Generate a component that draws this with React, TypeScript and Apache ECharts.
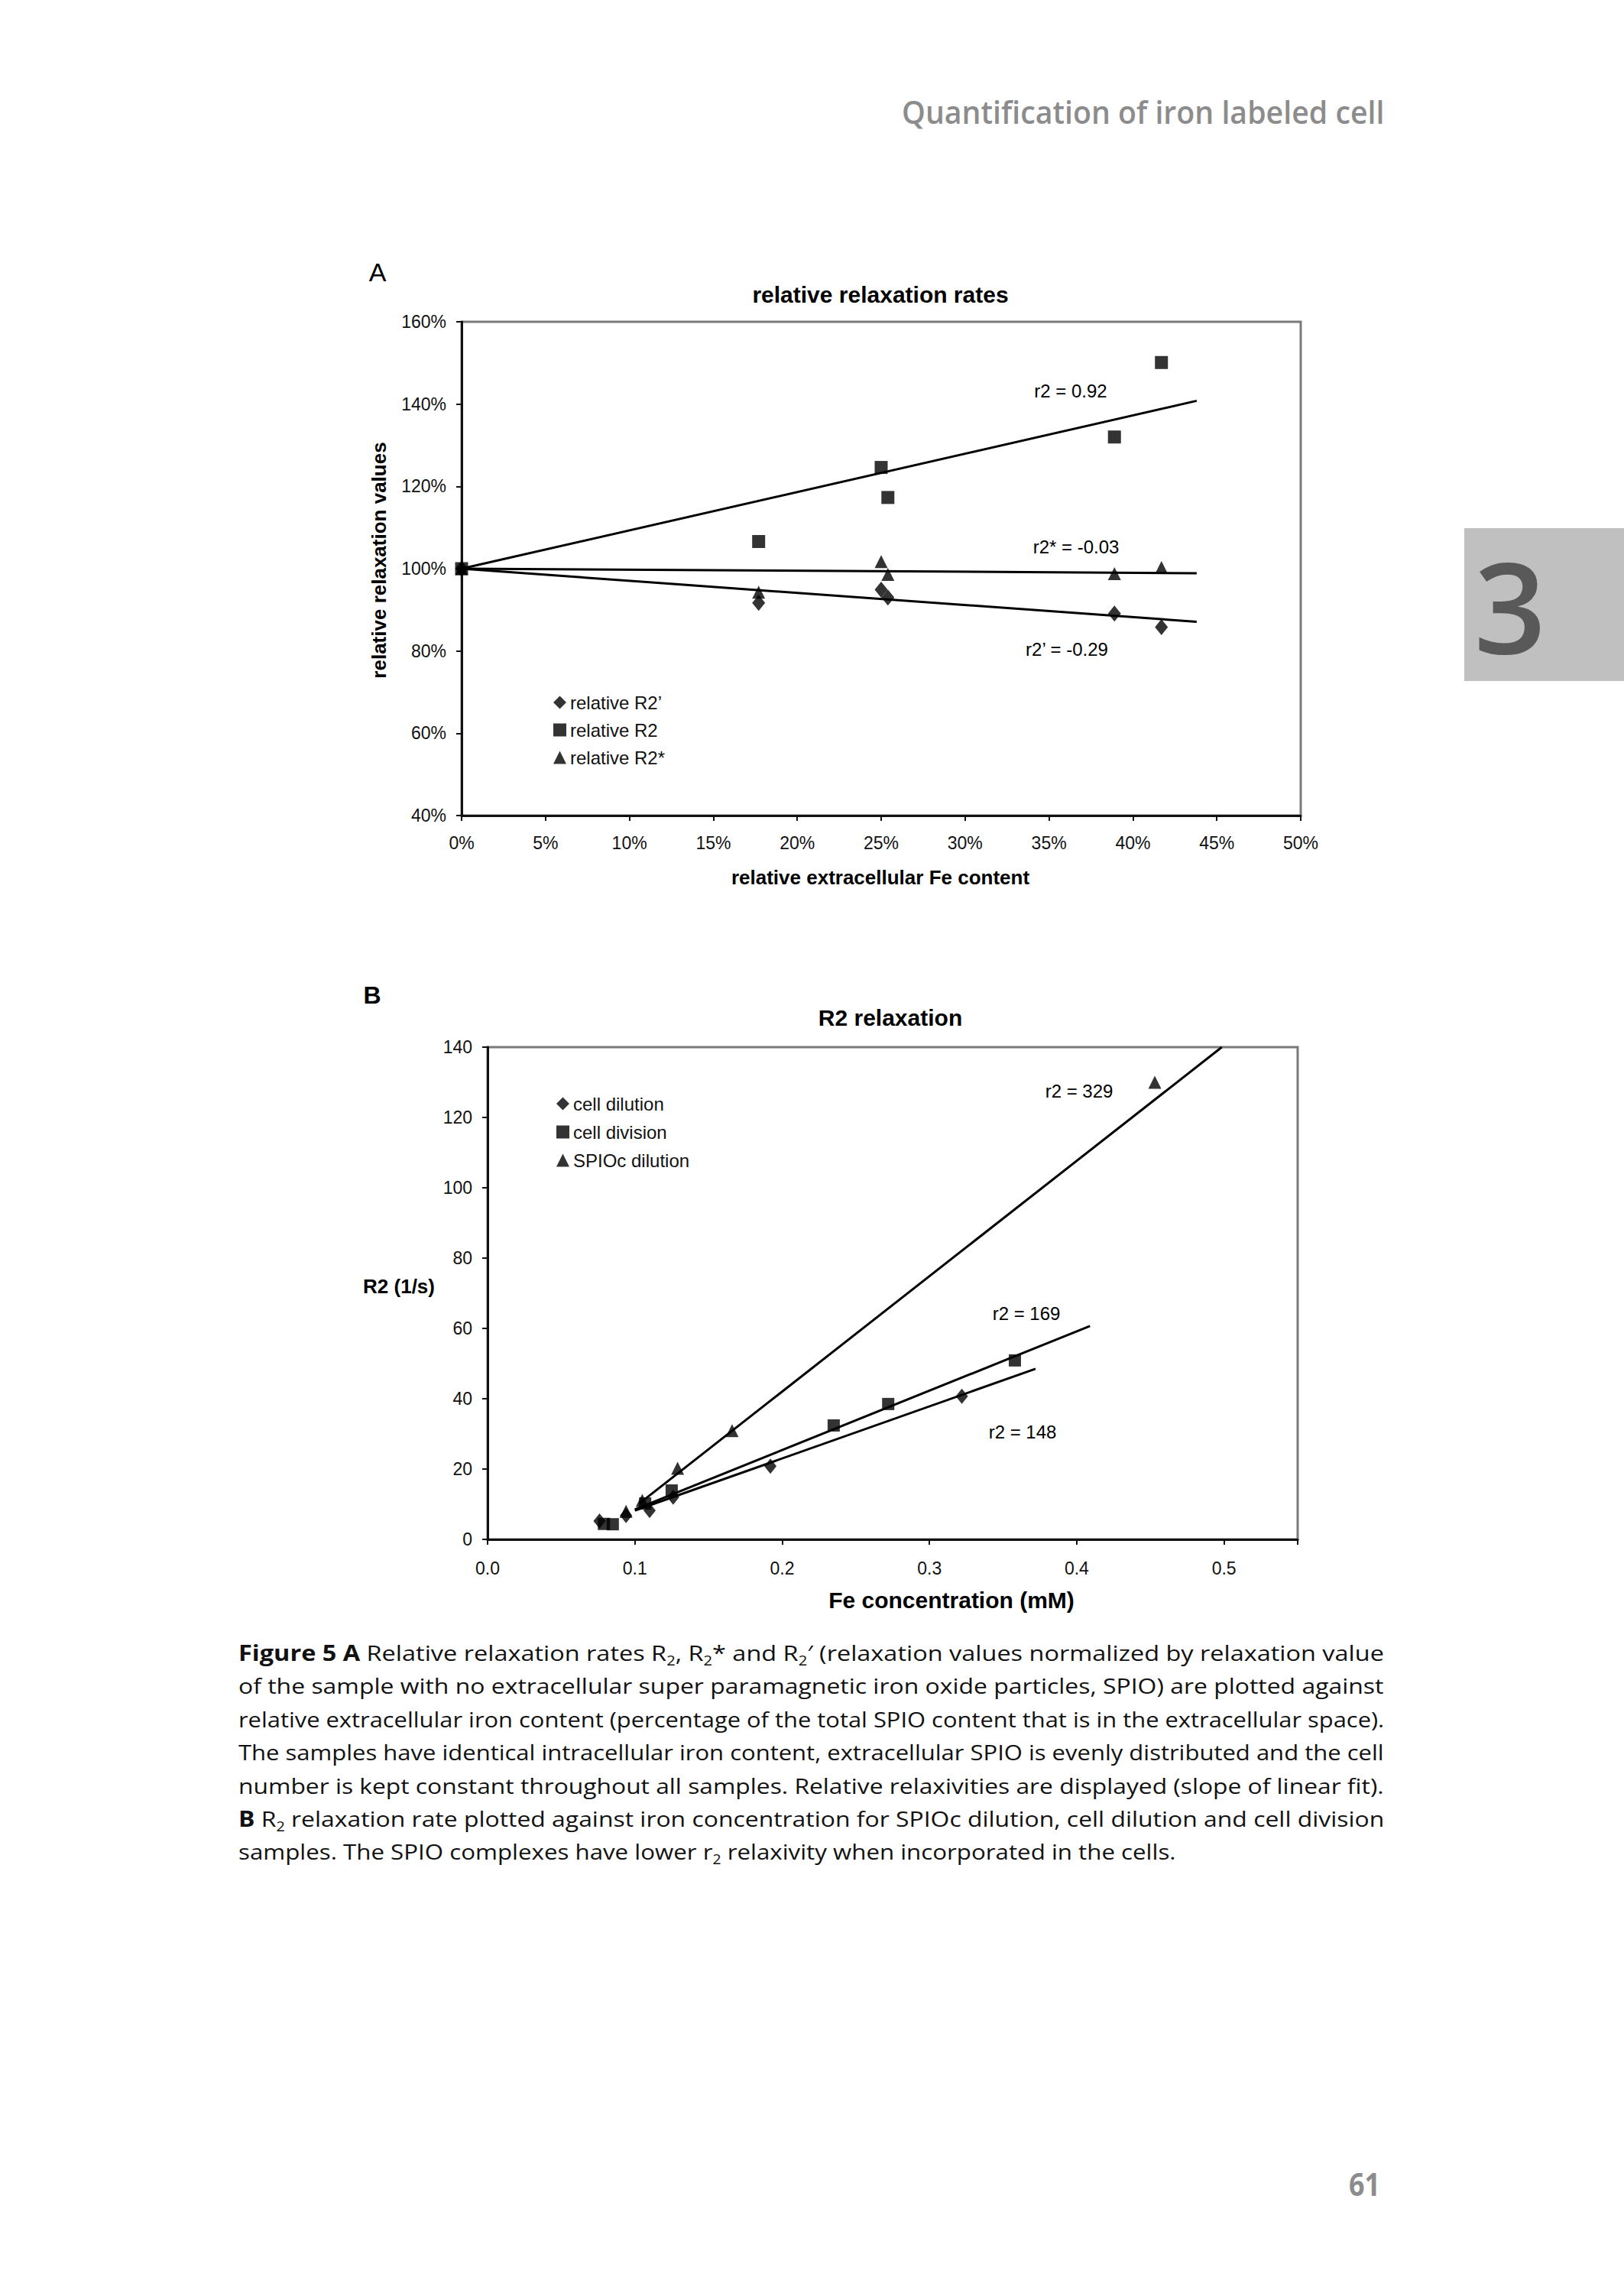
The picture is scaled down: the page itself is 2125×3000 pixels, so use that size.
import React, { useEffect, useLayoutEffect, useRef } from "react";
import * as echarts from "echarts";

// ---------- Panel A: relative relaxation rates ----------
const extracellularFe = [0, 17.7, 25.0, 25.4, 38.9, 41.7]; // % of total SPIO
const relR2prime = [100, 91.7, 94.9, 93.0, 89.1, 85.8];
const relR2 = [100, 106.6, 124.6, 117.3, 132.0, 150.1];
const relR2star = [100, 94.3, 101.7, 98.6, 98.8, 100.3];
const fitXA = [0, 43.8];
const fitR2 = [100, 140.8];
const fitR2star = [100, 98.9];
const fitR2prime = [100, 87.1];
const seriesNamesA = ["relative R2\u2019", "relative R2", "relative R2*"];
const fitLabelsA = ["r2 = 0.92", "r2* = -0.03", "r2\u2019 = -0.29"];

// ---------- Panel B: R2 relaxation ----------
const cellDilutionX = [0.076, 0.094, 0.110, 0.126, 0.192, 0.322];
const cellDilutionY = [5.2, 6.8, 8.2, 12.0, 20.8, 40.7];
const cellDivisionX = [0.079, 0.085, 0.107, 0.125, 0.235, 0.272, 0.358];
const cellDivisionY = [4.4, 4.3, 10.2, 13.9, 32.4, 38.5, 50.9];
const spiocX = [0.094, 0.105, 0.129, 0.166, 0.453];
const spiocY = [8.0, 11.1, 20.2, 30.9, 130.0];
const fitSpiocX = [0.103, 0.4985];
const fitSpiocY = [10.2, 140];
const fitDivisionX = [0.1, 0.409];
const fitDivisionY = [8.5, 60.7];
const fitDilutionX = [0.1, 0.372];
const fitDilutionY = [8.2, 48.5];
const seriesNamesB = ["cell dilution", "cell division", "SPIOc dilution"];
const fitLabelsB = ["r2 = 329", "r2 = 169", "r2 = 148"];

const FONT = "'Liberation Sans', Arial, sans-serif";
const PAGE_FONT = "'Open Sans', 'Noto Sans', sans-serif";

const pairs = (xs: number[], ys: number[]) => xs.map((x, i) => [x, ys[i]]);

const txt = (x: number, y: number, text: string, size: number, weight: string = "normal", extra: any = {}) => ({
  type: "text",
  x,
  y,
  silent: true,
  ...extra,
  style: {
    text,
    fontSize: size,
    fontWeight: weight,
    fontFamily: FONT,
    fill: "#000",
    align: "center",
    verticalAlign: "middle",
  },
});

const axisLine = { show: true, onZero: false, lineStyle: { color: "#111", width: 3 } };
const axisTick = { show: true, inside: false, length: 7, lineStyle: { color: "#111", width: 2 } };
const labelBase = { color: "#111", fontSize: 23, fontFamily: FONT };

const scatter = (name: string, symbol: string, size: any, data: number[][], idx: number) => ({
  type: "scatter",
  name,
  symbol,
  symbolSize: size,
  xAxisIndex: idx,
  yAxisIndex: idx,
  itemStyle: { color: "#000" },
  data,
  z: 4,
});

const fitLine = (data: number[][], idx: number) => ({
  type: "line",
  xAxisIndex: idx,
  yAxisIndex: idx,
  symbol: "none",
  silent: true,
  lineStyle: { color: "#000", width: 3 },
  data,
  z: 3,
});

const option: any = {
  animation: false,
  backgroundColor: "transparent",
  grid: [
    { left: 604, top: 421, width: 1098, height: 646, show: true, borderColor: "#7a7a7a", borderWidth: 3, containLabel: false },
    { left: 638, top: 1370, width: 1060, height: 644, show: true, borderColor: "#7a7a7a", borderWidth: 3, containLabel: false },
  ],
  xAxis: [
    {
      gridIndex: 0, type: "value", min: 0, max: 50, interval: 5,
      axisLine, axisTick, splitLine: { show: false },
      axisLabel: { ...labelBase, margin: 24, formatter: "{value}%" },
    },
    {
      gridIndex: 1, type: "value", min: 0, max: 0.55, interval: 0.1,
      axisLine, axisTick, splitLine: { show: false },
      axisLabel: {
        ...labelBase, margin: 26,
        formatter: (v: number) => (Math.abs(v * 10 - Math.round(v * 10)) > 1e-6 ? "" : v.toFixed(1)),
      },
    },
  ],
  yAxis: [
    {
      gridIndex: 0, type: "value", min: 40, max: 160, interval: 20,
      axisLine, axisTick, splitLine: { show: false },
      axisLabel: { ...labelBase, margin: 20, formatter: "{value}%" },
    },
    {
      gridIndex: 1, type: "value", min: 0, max: 140, interval: 20,
      axisLine, axisTick, splitLine: { show: false },
      axisLabel: { ...labelBase, margin: 20 },
    },
  ],
  legend: [
    {
      orient: "vertical", left: 724, top: 907, padding: 0, itemWidth: 17, itemHeight: 17, itemGap: 12,
      selectedMode: false,
      textStyle: { fontSize: 24, color: "#111", fontFamily: FONT },
      data: [
        { name: seriesNamesA[0], icon: "diamond" },
        { name: seriesNamesA[1], icon: "rect" },
        { name: seriesNamesA[2], icon: "triangle" },
      ],
    },
    {
      orient: "vertical", left: 728, top: 1432, padding: 0, itemWidth: 17, itemHeight: 17, itemGap: 13,
      selectedMode: false,
      textStyle: { fontSize: 24, color: "#111", fontFamily: FONT },
      data: [
        { name: seriesNamesB[0], icon: "diamond" },
        { name: seriesNamesB[1], icon: "rect" },
        { name: seriesNamesB[2], icon: "triangle" },
      ],
    },
  ],
  series: [
    fitLine(pairs(fitXA, fitR2), 0),
    fitLine(pairs(fitXA, fitR2star), 0),
    fitLine(pairs(fitXA, fitR2prime), 0),
    scatter(seriesNamesA[0], "diamond", [17, 21], pairs(extracellularFe, relR2prime), 0),
    scatter(seriesNamesA[1], "rect", 17, pairs(extracellularFe, relR2), 0),
    scatter(seriesNamesA[2], "triangle", [17, 17], pairs(extracellularFe, relR2star), 0),

    fitLine(pairs(fitSpiocX, fitSpiocY), 1),
    fitLine(pairs(fitDivisionX, fitDivisionY), 1),
    fitLine(pairs(fitDilutionX, fitDilutionY), 1),
    scatter(seriesNamesB[0], "diamond", [16, 20], pairs(cellDilutionX, cellDilutionY), 1),
    scatter(seriesNamesB[1], "rect", 16, pairs(cellDivisionX, cellDivisionY), 1),
    scatter(seriesNamesB[2], "triangle", [17, 17], pairs(spiocX, spiocY), 1),
  ],
  graphic: [
    txt(494, 356, "A", 34),
    txt(1152, 385, "relative relaxation rates", 30, "bold"),
    txt(496, 733, "relative relaxation values", 26, "bold", { rotation: Math.PI / 2 }),
    txt(1152, 1148, "relative extracellular Fe content", 26, "bold"),
    txt(1401, 511, fitLabelsA[0], 24),
    txt(1408, 715, fitLabelsA[1], 24),
    txt(1396, 849, fitLabelsA[2], 24),

    txt(487, 1302, "B", 32, "bold"),
    txt(1165, 1331, "R2 relaxation", 30, "bold"),
    txt(522, 1683, "R2 (1/s)", 26, "bold"),
    txt(1245, 2093, "Fe concentration (mM)", 30, "bold"),
    txt(1412, 1427, fitLabelsB[0], 24),
    txt(1343, 1718, fitLabelsB[1], 24),
    txt(1338, 1873, fitLabelsB[2], 24),
  ],
};

function FitText(props: { left: number; top: number; width: number; height: number; style?: any; children: any }) {
  const ref = useRef<HTMLDivElement>(null);
  useLayoutEffect(() => {
    const measure = () => {
      const el = ref.current;
      if (!el) return;
      const w = el.offsetWidth;
      if (w > 0) el.style.transform = `scaleX(${props.width / w})`;
    };
    measure();
    const f: any = (document as any).fonts;
    if (f && f.ready) f.ready.then(measure);
  }, [props.width]);
  return (
    <div
      ref={ref}
      style={{
        position: "absolute",
        left: props.left,
        top: props.top,
        height: props.height,
        lineHeight: props.height + "px",
        whiteSpace: "nowrap",
        transformOrigin: "left center",
        fontFamily: PAGE_FONT,
        ...props.style,
      }}
    >
      {props.children}
    </div>
  );
}

const Sub = ({ t }: { t: string }) => (
  <span style={{ fontSize: "0.62em", position: "relative", top: "0.35em" }}>{t}</span>
);

const CAPTION_LEFT = 312;
const CAPTION_FIRST = 2162;
const CAPTION_STEP = 43.4;
const captionWidths = [1499, 1499, 1499, 1499, 1499, 1499, 1226];

export default function App() {
  const ref = useRef<HTMLDivElement>(null);
  useEffect(() => {
    const chart = echarts.init(ref.current!, undefined, { renderer: "svg" });
    chart.setOption(option);
    return () => chart.dispose();
  }, []);

  const captionLines = [
    <>
      <b>Figure 5 A</b> Relative relaxation rates R<Sub t="2" />, R<Sub t="2" />* and R<Sub t="2" />′ (relaxation values normalized by relaxation value
    </>,
    <>of the sample with no extracellular super paramagnetic iron oxide particles, SPIO) are plotted against</>,
    <>relative extracellular iron content (percentage of the total SPIO content that is in the extracellular space).</>,
    <>The samples have identical intracellular iron content, extracellular SPIO is evenly distributed and the cell</>,
    <>number is kept constant throughout all samples. Relative relaxivities are displayed (slope of linear fit).</>,
    <>
      <b>B</b> R<Sub t="2" /> relaxation rate plotted against iron concentration for SPIOc dilution, cell dilution and cell division
    </>,
    <>
      samples. The SPIO complexes have lower r<Sub t="2" /> relaxivity when incorporated in the cells.
    </>,
  ];

  return (
    <div style={{ position: "absolute", left: 0, top: 0, width: 2125, height: 3000, background: "#fff", overflow: "hidden" }}>
      <div style={{ position: "absolute", left: 1916, top: 691, width: 209, height: 200, background: "#c0c0c0" }} />
      <div
        style={{
          position: "absolute", left: 1916, top: 691, width: 120, height: 200,
          fontFamily: PAGE_FONT, fontWeight: 600, fontSize: 165, color: "#595959",
          lineHeight: "200px", textAlign: "center",
        }}
      >
        3
      </div>
      <div ref={ref} style={{ position: "absolute", left: 0, top: 0, width: 2125, height: 3000 }} />
      <FitText left={1180} top={118} width={631} height={56} style={{ fontSize: 42, fontWeight: 600, color: "#8c8c8c" }}>
        Quantification of iron labeled cell
      </FitText>
      {captionLines.map((line, i) => (
        <FitText
          key={i}
          left={CAPTION_LEFT}
          top={CAPTION_FIRST + i * CAPTION_STEP - 22}
          width={captionWidths[i]}
          height={44}
          style={{ fontSize: 28, color: "#111" }}
        >
          {line}
        </FitText>
      ))}
      <FitText left={1765} top={2830} width={41} height={54} style={{ fontSize: 42, fontWeight: 700, color: "#8c8c8c" }}>
        61
      </FitText>
    </div>
  );
}
